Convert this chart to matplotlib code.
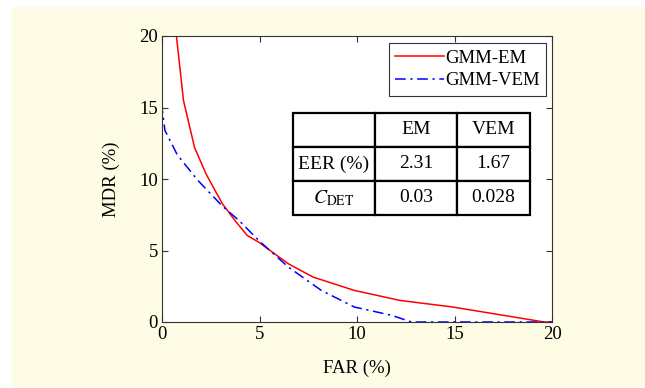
import matplotlib
matplotlib.use("Agg")
import matplotlib.pyplot as plt
from matplotlib.patches import Rectangle

plt.rcParams['font.family'] = ['Liberation Serif', 'DejaVu Serif']
plt.rcParams['mathtext.fontset'] = 'stix'

# GMM-EM curve (FAR %, MDR %)
em_far = [0.74, 1.1, 1.67, 2.26, 3.1, 3.74, 4.37, 4.96, 6.48, 7.75, 9.86, 12.2, 14.9, 19.6, 20.0]
em_mdr = [20.0, 15.5, 12.2, 10.35, 8.26, 7.1, 6.05, 5.58, 4.07, 3.14, 2.21, 1.51, 1.05, 0.0, 0.0]

# GMM-VEM curve
vem_far = [0.0, 0.0, 0.15, 0.78, 1.84, 3.1, 3.95, 4.96, 6.48, 8.17, 9.86, 11.76, 12.8, 20.0]
vem_mdr = [20.0, 15.0, 13.4, 11.7, 9.9, 8.1, 7.1, 5.7, 3.84, 2.21, 1.05, 0.47, 0.0, 0.0]

col_labels = ["", "EM", "VEM"]
row_eer = ["EER (%)", "2.31", "1.67"]
row_cdet = ["$C_{\\mathrm{DET}}$", "0.03", "0.028"]

fs = 13.5

fig = plt.figure(figsize=(6.45, 3.88), dpi=100, facecolor='white')
fig.patches.append(Rectangle((12/645, 1/388), 1 - 12/645, 1 - 8/388,
                             transform=fig.transFigure, facecolor='#fefce4',
                             edgecolor='none', zorder=-10))

ax = fig.add_axes([162/645, 1 - 322/388, 390/645, 286/388])
ax.plot(em_far, em_mdr, color='red', lw=1.1, label='GMM-EM')
ax.plot(vem_far, vem_mdr, color='blue', lw=1.1, linestyle=(0, (7, 3, 1.5, 3)), label='GMM-VEM')

ax.set_xlim(0, 20)
ax.set_ylim(0, 20)
ax.set_xticks([0, 5, 10, 15, 20])
ax.set_yticks([0, 5, 10, 15, 20])
ax.tick_params(direction='in', top=True, right=True, labelsize=fs, length=4,
               color='#333333', pad=3)
for s in ax.spines.values():
    s.set_color('#333333')
ax.set_xlabel('FAR (%)', fontsize=fs, labelpad=12)
ax.set_ylabel('MDR (%)', fontsize=fs, labelpad=14)

leg = ax.legend(loc='upper right', bbox_to_anchor=(0.985, 0.976), fontsize=fs,
                fancybox=False, framealpha=1, edgecolor='#333333',
                handlelength=2.6, handletextpad=0.05, borderpad=0.35,
                labelspacing=0.3, borderaxespad=0)
leg.get_frame().set_linewidth(0.8)

tbl = ax.table(cellText=[col_labels, row_eer, row_cdet], cellLoc='center',
               colWidths=[82, 82, 73],
               bbox=[(293-162)/390, 1 - (215-36)/286, (530-293)/390, (215-113)/286])
tbl.auto_set_font_size(False)
tbl.set_fontsize(14)
for cell in tbl.get_celld().values():
    cell.set_linewidth(1.6)
    cell.set_edgecolor('black')
    cell.set_facecolor('white')
    cell.PAD = 0.02

fig.savefig('out.png', dpi=100, facecolor=fig.get_facecolor())
